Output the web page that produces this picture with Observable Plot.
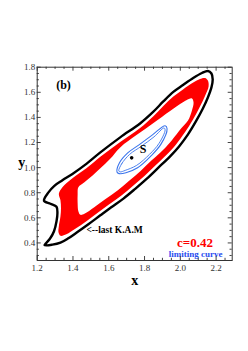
<!DOCTYPE html>
<html><head><meta charset="utf-8">
<script src="https://cdn.jsdelivr.net/npm/d3@7"></script>
<script src="https://cdn.jsdelivr.net/npm/@observablehq/plot@0.6"></script>
<style>body{margin:0;background:#fff}</style>
</head><body><div id="chart"></div>
<script>
const xDomain = [1.2, 2.29];
const yDomain = [0.26, 1.8];
const xTicks = [1.2, 1.4, 1.6, 1.8, 2.0, 2.2];
const yTicks = [0.4, 0.6, 0.8, 1.0, 1.2, 1.4, 1.6, 1.8];

// last KAM curve (black)
const lastKAM = [[1.238,0.736],[1.263,0.803],[1.296,0.855],[1.341,0.899],[1.397,0.950],[1.475,1.030],[1.553,1.121],[1.664,1.241],[1.775,1.352],[1.848,1.444],[1.905,1.527],[1.961,1.603],[2.015,1.658],[2.072,1.714],[2.121,1.754],[2.154,1.770],[2.174,1.750],[2.181,1.702],[2.174,1.639],[2.154,1.559],[2.126,1.471],[2.087,1.368],[2.043,1.265],[1.993,1.169],[1.943,1.090],[1.876,0.998],[1.813,0.912],[1.748,0.831],[1.682,0.753],[1.614,0.684],[1.553,0.620],[1.486,0.549],[1.423,0.485],[1.374,0.437],[1.330,0.402],[1.285,0.386],[1.241,0.382],[1.252,0.402],[1.271,0.433],[1.294,0.493],[1.308,0.573],[1.313,0.636],[1.308,0.688],[1.274,0.712]];

// chaotic band (red), outer and inner edges
const bandOuter = [[1.321,0.791],[1.341,0.843],[1.397,0.915],[1.475,0.994],[1.553,1.086],[1.664,1.205],[1.775,1.316],[1.848,1.408],[1.905,1.491],[1.961,1.567],[2.015,1.623],[2.072,1.678],[2.110,1.706],[2.138,1.714],[2.154,1.694],[2.158,1.646],[2.138,1.571],[2.110,1.487],[2.071,1.384],[2.026,1.281],[1.976,1.185],[1.929,1.110],[1.862,1.018],[1.801,0.935],[1.736,0.855],[1.671,0.777],[1.603,0.708],[1.542,0.644],[1.475,0.573],[1.413,0.513],[1.363,0.469],[1.330,0.457],[1.319,0.485],[1.321,0.533],[1.330,0.612],[1.333,0.676],[1.330,0.740]];
const bandInner = [[1.430,0.843],[1.464,0.883],[1.508,0.935],[1.553,0.994],[1.608,1.070],[1.664,1.161],[1.757,1.261],[1.850,1.356],[1.943,1.452],[2.017,1.523],[2.048,1.547],[2.065,1.551],[2.074,1.519],[2.065,1.456],[2.043,1.376],[2.004,1.312],[1.954,1.221],[1.906,1.145],[1.840,1.058],[1.778,0.974],[1.714,0.895],[1.649,0.817],[1.580,0.748],[1.519,0.684],[1.464,0.632],[1.441,0.624],[1.430,0.652],[1.426,0.716],[1.426,0.787]];

// limiting curve (blue), two close traces
const limitA = [[1.646,0.965],[1.660,1.038],[1.706,1.117],[1.771,1.183],[1.846,1.263],[1.915,1.334],[1.926,1.310],[1.891,1.185],[1.835,1.092],[1.761,0.999],[1.696,0.959],[1.658,0.952]];
const limitB = [[1.656,0.974],[1.672,1.030],[1.717,1.106],[1.781,1.169],[1.853,1.245],[1.909,1.316],[1.915,1.300],[1.881,1.193],[1.828,1.106],[1.756,1.018],[1.692,0.978],[1.664,0.966]];

const fixedPoint = [[1.728, 1.078]];

const notes = [
  {x: 1.347, y: 1.654, text: "(b)", size: 12, color: "#000", anchor: "middle"},
  {x: 1.792, y: 1.151, text: "S", size: 12, color: "#000", anchor: "middle"},
  {x: 1.475, y: 0.500, text: "<--last K.A.M", size: 9.5, color: "#000", anchor: "start"},
  {x: 2.082, y: 0.403, text: "c=0.42", size: 13, color: "#ff0000", anchor: "middle"},
  {x: 2.085, y: 0.312, text: "limiting curve", size: 9, color: "#2a4ef0", anchor: "middle"}
];

const W = 248, H = 351, mL = 36.7, mR = 16.3, mT = 66.7, mB = 91;
const kx = (W - mL - mR) / (xDomain[1] - xDomain[0]);
const ky = (H - mT - mB) / (yDomain[1] - yDomain[0]);
const serif = "'Liberation Serif', 'DejaVu Serif', serif";

const xMinor = d3.range(1.25, 2.29, 0.05).filter(v => !xTicks.some(t => Math.abs(t - v) < 1e-6));
const yMinor = d3.range(0.30, 1.80, 0.05).filter(v => !yTicks.some(t => Math.abs(t - v) < 1e-6));
const tickCol = "#444";
const majLen = 4, minLen = 2.2;

const P = d => ({x: d[0], y: d[1]});

const chart = Plot.plot({
  width: W, height: H,
  marginLeft: mL, marginRight: mR, marginTop: mT, marginBottom: mB,
  x: {domain: xDomain, axis: null},
  y: {domain: yDomain, axis: null},
  style: {fontFamily: serif, background: "#fff"},
  marks: [
    Plot.line(bandOuter.map(P), {x: "x", y: "y", curve: "catmull-rom-closed", fill: "#ff0000", stroke: "none"}),
    Plot.line(bandInner.map(P), {x: "x", y: "y", curve: "catmull-rom-closed", fill: "#fff", stroke: "none"}),
    Plot.line(lastKAM.map(P), {x: "x", y: "y", curve: "catmull-rom-closed", stroke: "#000", strokeWidth: 2.4, strokeLinejoin: "round"}),
    Plot.line(limitA.map(P), {x: "x", y: "y", curve: "catmull-rom-closed", stroke: "#3a74ec", strokeWidth: 1.1}),
    Plot.line(limitB.map(P), {x: "x", y: "y", curve: "catmull-rom-closed", stroke: "#3a74ec", strokeWidth: 0.9}),
    Plot.dot(fixedPoint.map(P), {x: "x", y: "y", r: 1.8, fill: "#000"}),
    ...notes.map(n => Plot.text([n], {x: "x", y: "y", text: "text", fontSize: n.size, fontWeight: "bold", fill: n.color, textAnchor: n.anchor, fontFamily: serif})),
    // ticks inward on all four sides
    Plot.ruleX(xTicks, {x: d => d, y1: yDomain[0], y2: yDomain[0] + majLen / ky, stroke: tickCol}),
    Plot.ruleX(xTicks, {x: d => d, y1: yDomain[1], y2: yDomain[1] - majLen / ky, stroke: tickCol}),
    Plot.ruleX(xMinor, {x: d => d, y1: yDomain[0], y2: yDomain[0] + minLen / ky, stroke: tickCol}),
    Plot.ruleX(xMinor, {x: d => d, y1: yDomain[1], y2: yDomain[1] - minLen / ky, stroke: tickCol}),
    Plot.ruleY(yTicks, {y: d => d, x1: xDomain[0], x2: xDomain[0] + majLen / kx, stroke: tickCol}),
    Plot.ruleY(yTicks, {y: d => d, x1: xDomain[1], x2: xDomain[1] - majLen / kx, stroke: tickCol}),
    Plot.ruleY(yMinor, {y: d => d, x1: xDomain[0], x2: xDomain[0] + minLen / kx, stroke: tickCol}),
    Plot.ruleY(yMinor, {y: d => d, x1: xDomain[1], x2: xDomain[1] - minLen / kx, stroke: tickCol}),
    Plot.frame({stroke: "#333", strokeWidth: 1}),
    Plot.axisX({ticks: xTicks, tickSize: 0, tickPadding: 4, tickFormat: d => d.toFixed(1), fontSize: 9, fill: "#333", fontFamily: serif, label: null}),
    Plot.axisY({ticks: yTicks, tickSize: 0, tickPadding: 2, tickFormat: d => d.toFixed(1), fontSize: 9, fill: "#333", fontFamily: serif, label: null}),
    Plot.text(["x"], {frameAnchor: "bottom", dy: 24, text: d => d, fontSize: 14, fontWeight: "bold", fontFamily: serif, fill: "#000"}),
    Plot.text(["y"], {frameAnchor: "left", dx: -19, dy: -1, text: d => d, fontSize: 14, fontWeight: "bold", fontFamily: serif, fill: "#000"})
  ]
});
document.getElementById("chart").appendChild(chart);
</script>
</body></html>
